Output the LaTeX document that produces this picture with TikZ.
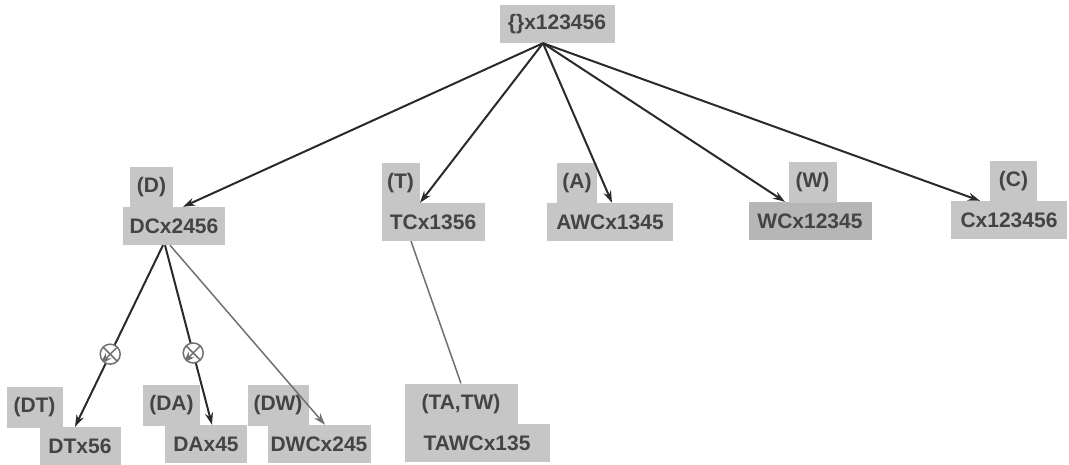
\documentclass[tikz,border=0pt]{standalone}
\usepackage{fontspec}
\setmainfont{Liberation Sans}
\usetikzlibrary{arrows.meta, positioning}
\definecolor{boxgray}{HTML}{C6C6C6}
\definecolor{boxdark}{HTML}{B6B6B6}
\definecolor{txtgray}{HTML}{444444}
\definecolor{linedark}{HTML}{2A2A2A}
\definecolor{linelight}{HTML}{707070}

\tikzset{
  box/.style={fill=boxgray, text=txtgray, inner sep=0pt, minimum height=38pt,
    font=\fontsize{21}{24}\selectfont\bfseries},
  lbl/.style={box, minimum height=41pt, anchor=south west},
  edge/.style={draw=linedark, line width=2pt, -{Stealth[length=12pt,width=8pt]}},
  softedge/.style={edge, draw=linelight, line width=1.5pt},
  xmark/.style={circle, draw=linelight, fill=white, line width=1.5pt, minimum size=20pt,
    inner sep=0pt, path picture={
      \draw[linelight, line width=1.5pt] (path picture bounding box.north west) -- (path picture bounding box.south east)
        (path picture bounding box.north east) -- (path picture bounding box.south west);}}
}

\begin{document}
\begin{tikzpicture}[x=1pt, y=-1pt]
  \useasboundingbox (0,0) rectangle (1069,465);

  % root
  \node[box, minimum width=115pt] (root) at (557,24) {\{\}x123456};

  % first level
  \node[box, minimum width=102pt] (Dm) at (174,226) {DCx2456};
  \node[lbl, minimum width=43pt]  (Dl) at ([xshift=7pt, yshift=-1pt]Dm.north west) {(D)};
  \node[box, minimum width=103pt] (Tm) at (433,222) {TCx1356};
  \node[lbl, minimum width=38pt]  (Tl) at ([yshift=-1pt]Tm.north west) {(T)};
  \node[box, minimum width=126pt] (Am) at (610,222) {AWCx1345};
  \node[lbl, minimum width=40pt]  (Al) at ([xshift=10pt, yshift=-1pt]Am.north west) {(A)};
  \node[box, minimum width=123pt, fill=boxdark] (Wm) at (810,221) {WCx12345};
  \node[lbl, minimum width=48pt]  (Wl) at ([xshift=40pt, yshift=-1pt]Wm.north west) {(W)};
  \node[box, minimum width=116pt] (Cm) at (1009,220) {Cx123456};
  \node[lbl, minimum width=47pt]  (Cl) at ([xshift=39pt, yshift=-1pt]Cm.north west) {(C)};

  % second level
  \node[box, minimum width=81pt]  (DTm) at (80,446) {DTx56};
  \node[lbl, minimum width=56pt]  (DTl) at ([xshift=-33pt, yshift=-1pt]DTm.north west) {(DT)};
  \node[box, minimum width=82pt]  (DAm) at (206,444) {DAx45};
  \node[lbl, minimum width=57pt]  (DAl) at ([xshift=-22pt, yshift=-1pt]DAm.north west) {(DA)};
  \node[box, minimum width=103pt] (DWm) at (319,444) {DWCx245};
  \node[lbl, minimum width=61pt]  (DWl) at ([xshift=-20pt, yshift=-1pt]DWm.north west) {(DW)};
  \node[box, minimum width=145pt] (TAm) at (477,443) {TAWCx135};
  \node[lbl, minimum width=113pt] (TAl) at ([yshift=-1pt]TAm.north west) {(TA,TW)};

  % root edges
  \draw[edge] ([xshift=-14pt]root.south) -- ([xshift=9pt]Dm.north);
  \draw[edge] ([xshift=-14pt]root.south) -- ([xshift=-13pt]Tm.north);
  \draw[edge] ([xshift=-14pt]root.south) -- ([xshift=2pt]Am.north);
  \draw[edge] ([xshift=-14pt]root.south) -- ([xshift=-25pt]Wm.north);
  \draw[edge] ([xshift=-14pt]root.south) -- ([xshift=-29pt]Cm.north);

  % lower edges
  \draw[edge] ([xshift=-11pt]Dm.south) -- node[xmark, pos=.6] (x1) {} ([xshift=-5pt]DTm.north);
  \draw[edge] ([xshift=-9pt]Dm.south) -- node[xmark, pos=.6] (x2) {} ([xshift=6pt]DAm.north);
  \draw[softedge] ([xshift=-4pt]Dm.south) -- ([xshift=6pt]DWm.north);
  \draw[draw=linelight, line width=1.5pt] ([xshift=-22pt]Tm.south) -- (TAl.north);
\end{tikzpicture}
\end{document}
